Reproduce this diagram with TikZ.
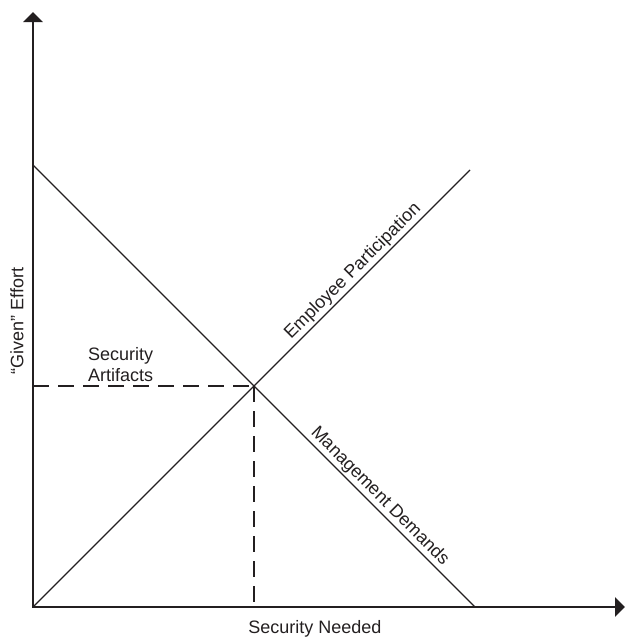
\documentclass[tikz,border=0pt]{standalone}
\usepackage{fontspec}
\setmainfont{Liberation Sans}
\usetikzlibrary{arrows.meta}
\definecolor{ink}{RGB}{35,31,32}
\tikzset{
  axis/.style={draw=ink, line width=2.5pt, line join=miter,
    {Triangle[length=10pt,width=19pt]}-{Triangle[length=10pt,width=19pt]}},
  curve/.style={draw=ink, line width=1.2pt},
  guide/.style={draw=ink, line width=2pt, dash pattern=on 16pt off 9pt},
  lbl/.style={text=ink, font=\fontsize{18}{21}\selectfont, inner sep=0pt},
  linelbl/.style={lbl, sloped, anchor=south, inner sep=2pt}
}
\begin{document}
\begin{tikzpicture}[x=1pt, y=-1pt]
  \useasboundingbox (0,0) rectangle (627,637);

  % axes
  \coordinate (O) at (33,607);
  \coordinate (Ytip) at (33,12);
  \coordinate (Xtip) at (625,607);
  \draw[axis] (Ytip) -- (O) -- (Xtip);

  % supply / demand style lines
  \coordinate (Mtop) at (33,165);
  \coordinate (Mend) at (475,607);
  \coordinate (Eend) at (470,170);
  \draw[curve] (Mtop) -- node[linelbl, pos=0.767] (mgmt) {Management Demands} (Mend);
  \draw[curve] (O) -- node[linelbl, pos=0.75] (emp) {Employee Participation} (Eend);

  % equilibrium point and guides to the axes
  \coordinate (X) at (intersection of Mtop--Mend and O--Eend);
  \draw[guide] (X -| O) -- (X);
  \draw[guide] (X) -- (X |- O);

  % labels
  \node[lbl, anchor=north west, align=left] (artifacts) at (88,347) {Security\\Artifacts};
  \node[lbl, anchor=base] (xlabel) at (315,633) {Security Needed};
  \node[lbl, rotate=90] (ylabel) at (17,321) {“Given” Effort};
\end{tikzpicture}
\end{document}
